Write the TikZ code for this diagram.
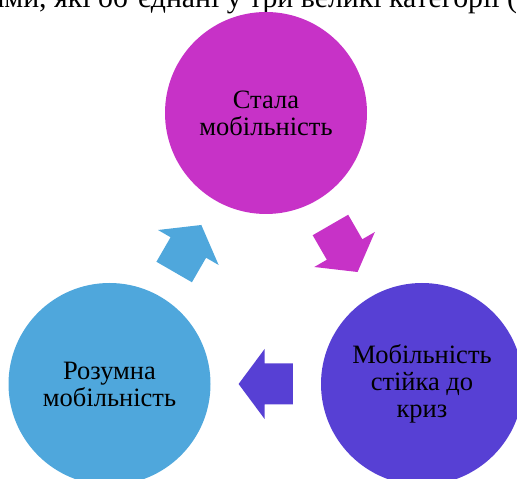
\documentclass[tikz,border=0pt]{standalone}
\usepackage{fontspec}
\setmainfont{Liberation Serif}
\usetikzlibrary{calc}
\definecolor{magC}{HTML}{C732C7}
\definecolor{bluC}{HTML}{4FA7DC}
\definecolor{purC}{HTML}{5740D4}
\tikzset{
  circ/.style={circle, minimum size=202pt, inner sep=0pt, draw=none, align=center,
    font=\fontsize{26.5}{27}\selectfont, text=black},
  cyarrow/.pic={\path[pic actions] (-27.15,20.5) -- (1.15,20.5) -- (1.15,35) -- (27.15,0)
     -- (1.15,-35) -- (1.15,-20.5) -- (-27.15,-20.5) -- cycle;}
}
\begin{document}
\begin{tikzpicture}[x=1pt,y=1pt]
\useasboundingbox (0,0) rectangle (517,479);
\clip (0,0) rectangle (517,479);
\node[anchor=base west, inner sep=0pt, font=\fontsize{29.8}{32}\selectfont] (head) at (-9,471.5)
  {ами, які об'єднані у три великі категорії (};
\node[circ, fill=magC] (mag) at (266,366) {Стала\\мобільність};
\node[circ, fill=bluC] (blu) at (109.5,95) {Розумна\\мобільність};
\node[circ, fill=purC] (pur) at (422,95) {Мобільність\\стійка до\\криз};
\pic[fill=bluC, rotate=60] at ($(blu)!0.5!(mag)$) {cyarrow};
\pic[fill=magC, rotate=-60] at ($(mag)!0.5!(pur)$) {cyarrow};
\pic[fill=purC, rotate=180] at ($(pur)!0.5!(blu)$) {cyarrow};
\end{tikzpicture}
\end{document}
